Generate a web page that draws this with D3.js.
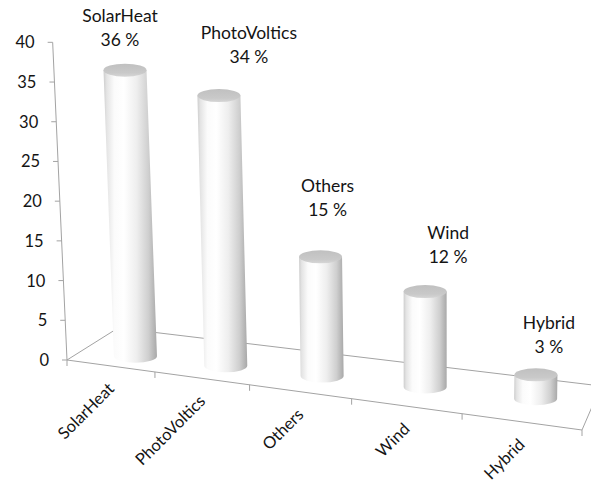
<!DOCTYPE html>
<html>
<head>
<meta charset="utf-8">
<script src="https://cdn.jsdelivr.net/npm/d3@7"></script>
<style>
  html, body { margin: 0; padding: 0; background: #fff; }
  svg { display: block; font-family: Lato, "Open Sans", "Noto Sans", sans-serif; }
</style>
</head>
<body>
<svg id="chart" width="591" height="483"></svg>
<script>
// Share of renewable installations by technology (%)
const categories = ["SolarHeat", "PhotoVoltics", "Others", "Wind", "Hybrid"];
const shares = [36, 34, 15, 12, 3];
const yTickValues = [0, 5, 10, 15, 20, 25, 30, 35, 40];

// Hand-placed offsets of the value labels relative to each cylinder top
const labelNudge = [[-5, -24], [30, -33], [7, -41], [23, -29], [13, -22]];

const svg = d3.select("#chart");

// Floor of the 3D plot: front-left, front-right, back-right, back-left
const floorCorners = [[67, 360], [582, 430], [601, 386], [118, 328]];

// Unit square -> floor quadrilateral (projective mapping)
function quadMap(p0, p1, p2, p3) {
  const dx1 = p1[0] - p2[0], dy1 = p1[1] - p2[1];
  const dx2 = p3[0] - p2[0], dy2 = p3[1] - p2[1];
  const dx3 = p0[0] - p1[0] + p2[0] - p3[0];
  const dy3 = p0[1] - p1[1] + p2[1] - p3[1];
  const den = dx1 * dy2 - dx2 * dy1;
  const g = (dx3 * dy2 - dx2 * dy3) / den;
  const h = (dx1 * dy3 - dx3 * dy1) / den;
  const a = p1[0] - p0[0] + g * p1[0], b = p3[0] - p0[0] + h * p3[0], c = p0[0];
  const d = p1[1] - p0[1] + g * p1[1], e = p3[1] - p0[1] + h * p3[1], f = p0[1];
  return (u, v) => {
    const w = g * u + h * v + 1;
    return [(a * u + b * v + c) / w, (d * u + e * v + f) / w];
  };
}
const floorAt = quadMap(...floorCorners);

// Verticals converge slightly towards a point far below the chart
const vanish = [430, 8400];
const heightScale = d3.scaleLinear().domain([0, 40]).range([0, 318]);
function lift(p, value) {
  const h = heightScale(value);
  const dx = vanish[0] - p[0], dy = vanish[1] - p[1];
  const len = Math.hypot(dx, dy);
  return [p[0] - dx / len * h, p[1] - dy / len * h];
}

const xBand = d3.scaleBand().domain(categories).range([0, 1]);
// Placement of the cylinder feet on the floor (depth from the front edge, sideways nudge)
const depthAt = d3.scaleLinear().domain([0, 1]).range([0.25, 0.55]);
const shiftAt = d3.scaleLinear().domain([0, 1]).range([12, 1]);
const rx = 21.5, ry = 6.5;

const lineColor = "#a3a3a3";
const textColor = "#141414";

// Gradients for the cylinder bodies and caps
const defs = svg.append("defs");
const bodyGrad = defs.append("linearGradient").attr("id", "body")
  .attr("x1", 0).attr("x2", 1).attr("y1", 0).attr("y2", 0);
[[0, "#cdcdcd"], [0.06, "#e4e4e4"], [0.2, "#fbfbfb"], [0.38, "#ffffff"],
 [0.62, "#eeeeee"], [0.84, "#cfcfcf"], [1, "#a8a8a8"]]
  .forEach(([o, c]) => bodyGrad.append("stop").attr("offset", o).attr("stop-color", c));
const capGrad = defs.append("linearGradient").attr("id", "cap")
  .attr("x1", 0).attr("x2", 0).attr("y1", 0).attr("y2", 1);
[[0, "#c0c0c0"], [0.7, "#c9c9c9"], [1, "#d6d6d6"]]
  .forEach(([o, c]) => capGrad.append("stop").attr("offset", o).attr("stop-color", c));

// Floor outline
const [fl, fr, br, bl] = floorCorners;
const floorG = svg.append("g").attr("stroke", lineColor).attr("fill", "none").attr("stroke-width", 1);
floorG.append("path").attr("d", d3.line()([bl, fl, fr, br, bl]));

// Category ticks along the front edge
const boundaries = d3.range(categories.length + 1).map(i => i / categories.length);
floorG.selectAll("line.ctick").data(boundaries).join("line")
  .attr("class", "ctick")
  .attr("x1", u => floorAt(u, 0)[0]).attr("y1", u => floorAt(u, 0)[1])
  .attr("x2", u => floorAt(u, 0)[0]).attr("y2", u => floorAt(u, 0)[1] + 6);

// Value axis standing at the front-left corner
const axisG = svg.append("g");
axisG.append("line")
  .attr("stroke", lineColor)
  .attr("x1", fl[0]).attr("y1", fl[1])
  .attr("x2", lift(fl, 40)[0]).attr("y2", lift(fl, 40)[1]);
const yt = axisG.selectAll("g.ytick").data(yTickValues).join("g").attr("class", "ytick");
yt.append("line").attr("stroke", lineColor)
  .attr("x1", v => lift(fl, v)[0] - 5).attr("y1", v => lift(fl, v)[1])
  .attr("x2", v => lift(fl, v)[0]).attr("y2", v => lift(fl, v)[1]);
yt.append("text")
  .attr("x", v => lift(fl, v)[0] - 18).attr("y", v => lift(fl, v)[1])
  .attr("dy", "0.36em").attr("text-anchor", "end")
  .attr("font-size", 16.5).attr("fill", textColor)
  .text(v => v);

// Cylinders
const bars = categories.map((c, i) => {
  const u = xBand(c) + xBand.bandwidth() / 2;
  const p = floorAt(u, depthAt(u));
  const base = [p[0] + shiftAt(u), p[1]];
  const top = lift(base, shares[i]);
  return { c, i, value: shares[i], base, top, u };
});

const barG = svg.selectAll("g.bar").data(bars).join("g").attr("class", "bar");
barG.append("path")
  .attr("fill", "url(#body)")
  .attr("d", d => {
    const [bx, by] = d.base, [tx, ty] = d.top;
    return `M${bx - rx},${by} L${tx - rx},${ty} L${tx + rx},${ty} L${bx + rx},${by}` +
           ` A${rx},${ry} 0 0 1 ${bx - rx},${by} Z`;
  });
barG.append("ellipse")
  .attr("cx", d => d.top[0]).attr("cy", d => d.top[1])
  .attr("rx", rx).attr("ry", ry)
  .attr("fill", "url(#cap)");

// Data labels: category name over its share
const lbl = barG.append("text")
  .attr("text-anchor", "middle").attr("font-size", 17.5).attr("fill", textColor);
lbl.append("tspan")
  .attr("x", d => d.top[0] + labelNudge[d.i][0])
  .attr("y", d => d.top[1] + labelNudge[d.i][1] - 24)
  .text(d => d.c);
lbl.append("tspan")
  .attr("x", d => d.top[0] + labelNudge[d.i][0])
  .attr("y", d => d.top[1] + labelNudge[d.i][1])
  .text(d => `${d.value} %`);

// Rotated category labels below the front edge
svg.selectAll("text.cat").data(bars).join("text")
  .attr("class", "cat")
  .attr("text-anchor", "end").attr("font-size", 16.5).attr("fill", textColor)
  .attr("transform", d => {
    const p = floorAt(d.u, 0);
    return `translate(${p[0] + 5},${p[1] + 24}) rotate(-45)`;
  })
  .text(d => d.c);
</script>
</body>
</html>
